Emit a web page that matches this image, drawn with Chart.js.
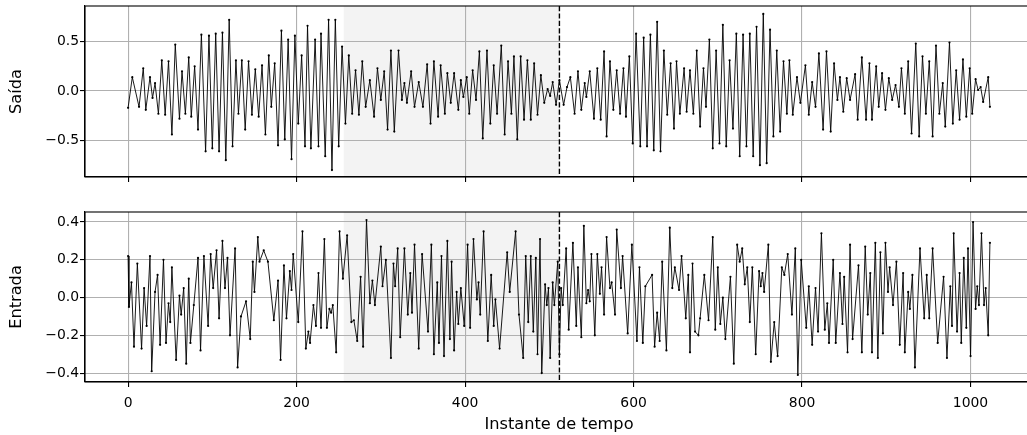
<!DOCTYPE html>
<html>
<head>
<meta charset="utf-8">
<script src="https://cdn.jsdelivr.net/npm/chart.js@4"></script>
<style>
  body { margin: 0; width: 1027px; height: 435px; overflow: hidden; background: #fff; position: relative; }
  canvas { position: absolute; left: 0; }
</style>
</head>
<body>
<canvas id="outChart" width="1037" height="190" style="top:0"></canvas>
<canvas id="inChart" width="1037" height="229" style="top:206px"></canvas>
<script>
// sample index / value of each turning point
const outX = [0,5,13,18,21,26,29,32,36,40,44,48,52,56,61,64,68,72,75,79,83,87,92,96,100,104,108,112,116,120,124,128,131,135,139,143,147,151,155,159,163,167,
  170,174,178,182,186,190,194,198,202,206,210,213,217,222,226,229,234,238,242,246,250,254,258,262,266,270,274,278,282,287,292,296,300,304,308,312,316,321,325,328,331,336,340,
  345,350,355,359,363,368,371,376,379,383,387,392,395,398,402,405,409,413,417,421,426,430,434,438,443,447,451,455,458,462,466,470,474,478,482,486,490,494,498,501,504,508,512,
  517,521,525,530,534,538,542,544,548,553,557,561,565,568,572,576,580,584,588,591,595,599,603,608,612,616,620,624,628,632,636,640,644,648,651,655,660,663,667,671,675,679,683,
  686,690,694,698,702,706,710,714,718,722,726,730,734,738,742,746,750,754,758,762,766,770,774,778,782,785,789,794,798,804,808,812,816,820,825,829,834,838,842,845,849,853,857,
  863,866,871,876,880,883,888,891,895,899,903,907,911,915,918,922,926,930,935,939,943,947,951,955,959,963,967,970,975,979,983,987,991,995,999,1002,1006,1009,1012,1015,1021,1023];
const outY = [-0.17,0.14,-0.16,0.23,-0.19,0.14,-0.07,0.08,-0.23,0.31,-0.24,0.30,-0.44,0.47,-0.28,0.20,-0.23,0.34,-0.26,0.25,-0.39,0.57,-0.61,0.56,-0.58,0.58,-0.61,0.59,-0.70,0.72,-0.56,0.31,-0.23,0.31,-0.39,0.30,-0.24,0.22,-0.26,0.26,-0.44,0.36,
  -0.16,0.28,-0.55,0.61,-0.49,0.52,-0.69,0.56,-0.33,0.36,-0.56,0.66,-0.58,0.52,-0.56,0.58,-0.66,0.72,-0.80,0.72,-0.56,0.45,-0.33,0.36,-0.23,0.21,-0.24,0.30,-0.16,0.11,-0.26,0.23,-0.09,0.20,-0.39,0.41,-0.41,0.41,-0.09,0.08,-0.12,0.20,-0.16,
  0.09,-0.16,0.27,-0.33,0.30,-0.26,0.26,-0.23,0.18,-0.12,0.18,-0.19,0.11,-0.06,0.14,-0.23,0.21,-0.09,0.40,-0.48,0.41,-0.33,0.26,-0.23,0.46,-0.44,0.30,-0.23,0.35,-0.49,0.35,-0.29,0.31,-0.29,0.28,-0.24,0.16,-0.12,0.02,-0.05,0.09,-0.14,0.11,
  -0.14,0.04,0.14,-0.23,0.20,-0.19,0.08,-0.06,0.20,-0.28,0.23,-0.29,0.40,-0.46,0.30,-0.19,0.21,-0.23,0.23,-0.26,0.35,-0.53,0.58,-0.56,0.54,-0.56,0.57,-0.60,0.70,-0.61,0.41,-0.24,0.28,-0.38,0.30,-0.23,0.23,-0.21,0.21,-0.23,0.41,-0.36,0.23,
  -0.16,0.52,-0.58,0.41,-0.53,0.67,-0.56,0.31,-0.38,0.58,-0.66,0.57,-0.56,0.58,-0.66,0.65,-0.75,0.78,-0.73,0.62,-0.46,0.41,-0.41,0.30,-0.23,0.31,-0.24,0.14,-0.12,0.26,-0.24,0.09,-0.16,0.38,-0.39,0.40,-0.41,0.28,-0.09,0.14,-0.21,0.13,-0.09,
  0.17,-0.29,0.34,-0.29,0.28,-0.29,0.25,-0.16,0.18,-0.19,0.13,-0.09,0.06,-0.16,0.23,-0.23,0.30,-0.43,0.48,-0.46,0.35,-0.23,0.30,-0.46,0.46,-0.23,0.08,-0.36,0.49,-0.33,0.21,-0.29,0.32,-0.26,0.23,-0.23,0.12,0.01,0.04,-0.11,0.14,-0.16];

const inX = [0,1,4,7,11,16,19,22,26,28,32,35,38,42,45,48,50,52,57,61,63,66,69,72,74,78,83,86,90,95,98,101,105,108,112,115,118,121,127,130,134,140,145,148,150,154,156,161,
  166,173,178,181,185,188,192,194,196,202,207,211,214,216,220,223,226,229,233,236,239,241,243,247,251,255,260,265,268,272,276,279,283,287,290,293,300,302,306,312,315,317,320,323,328,332,335,337,340,
  345,349,356,360,363,367,369,372,375,379,382,384,387,390,392,395,399,403,406,410,414,416,418,422,427,431,434,436,441,450,453,460,464,469,472,475,478,481,484,486,489,491,495,497,499,501,504,506,510,512,
  514,516,520,523,528,532,534,538,541,544,546,548,550,554,557,560,562,565,568,572,574,578,580,585,587,593,598,604,607,611,614,622,625,628,631,634,639,643,646,649,654,657,662,665,667,670,673,677,679,684,
  689,694,697,700,703,706,709,715,719,723,726,729,732,735,738,741,745,749,751,753,755,760,763,767,771,776,779,783,788,792,795,799,805,808,812,816,819,823,827,830,832,837,840,845,848,850,854,857,
  860,867,871,875,878,881,883,887,890,893,896,899,902,904,908,912,916,920,922,926,928,931,934,940,945,948,951,955,961,968,972,976,978,980,984,987,989,992,995,997,1000,1003,1006,1008,1010,1013,1016,1018,1021,1023];
const inY = [0.22,-0.05,0.08,-0.26,0.18,-0.27,0.05,-0.15,0.22,-0.39,0.03,0.12,-0.25,0.20,-0.24,-0.03,-0.13,0.16,-0.33,0.01,-0.09,0.05,-0.35,0.10,-0.24,-0.04,0.21,-0.28,0.22,-0.15,0.23,0.05,0.25,-0.11,0.30,0.05,0.21,-0.20,0.26,-0.37,-0.10,-0.02,-0.22,0.19,0.03,0.32,0.19,0.25,
  0.19,-0.12,0.09,-0.33,0.17,-0.11,0.14,0.04,0.23,-0.13,0.35,-0.27,-0.18,-0.24,-0.04,-0.15,0.13,-0.16,0.31,-0.16,-0.06,-0.08,-0.04,-0.29,0.35,0.10,0.33,-0.13,-0.12,-0.23,0.11,-0.26,0.41,-0.03,0.09,-0.04,0.27,0.06,0.20,-0.32,0.18,0.06,0.26,-0.21,0.26,-0.09,0.13,-0.08,0.28,
  -0.27,0.23,-0.18,0.28,-0.30,0.08,-0.24,0.22,-0.31,0.30,-0.22,0.19,-0.28,0.03,-0.14,0.05,-0.15,0.28,-0.16,0.31,-0.01,0.08,-0.09,0.35,-0.23,0.12,-0.15,-0.01,-0.27,0.24,0.03,0.35,-0.09,-0.32,0.22,-0.13,0.22,-0.18,0.21,-0.30,0.31,-0.40,0.07,-0.04,0.05,-0.32,0.08,-0.04,0.19,-0.30,
  0.05,-0.04,0.26,-0.17,0.29,-0.15,0.16,-0.21,0.38,-0.03,0.04,-0.02,0.23,-0.20,0.23,0.02,0.16,-0.09,0.32,0.05,0.08,-0.09,0.36,0.05,0.22,-0.19,0.28,-0.23,0.16,-0.24,0.06,0.12,-0.26,-0.08,-0.23,0.19,-0.28,0.37,0.05,0.16,0.04,0.22,-0.11,0.12,-0.29,0.18,-0.18,-0.20,-0.11,0.12,
  -0.12,0.32,-0.17,0.16,-0.14,0.00,-0.22,0.11,-0.35,0.28,0.19,0.26,0.07,0.16,-0.13,0.16,-0.30,0.14,0.06,0.13,0.03,0.28,-0.34,-0.13,-0.31,0.16,0.12,0.23,-0.09,0.26,-0.41,0.20,-0.16,0.06,-0.25,0.05,-0.18,0.34,-0.17,-0.03,-0.24,0.20,-0.24,0.13,-0.14,0.11,-0.29,0.28,
  -0.22,0.17,-0.29,0.27,-0.09,0.13,-0.29,0.29,-0.32,0.24,-0.19,0.29,0.03,0.16,-0.04,0.19,-0.25,0.13,-0.29,0.03,-0.06,0.12,-0.37,0.26,-0.11,0.12,-0.11,0.26,-0.24,0.11,-0.32,0.06,-0.15,0.34,-0.18,0.13,-0.24,0.21,-0.16,0.26,-0.31,0.40,-0.06,0.06,-0.04,0.34,-0.04,0.05,-0.20,0.29];

const xTicks = [0, 200, 400, 600, 800, 1000];
const outTicks = [-0.5, 0, 0.5];
const inTicks = [-0.4, -0.2, 0, 0.2, 0.4];
const shadeFrom = 256, shadeTo = 512, splitAt = 512;

const tickFont = { family: "'DejaVu Sans'", size: 13.9 };
const labelFont = { family: "'DejaVu Sans'", size: 16.2 };
const fmt = (v) => (v < 0 ? "\u2212" : "") + Math.abs(v).toFixed(1);

const spanPlugin = {
  id: "span",
  beforeDraw(chart) {
    const { ctx, chartArea: a, scales: { x } } = chart;
    const x0 = x.getPixelForValue(shadeFrom), x1 = x.getPixelForValue(shadeTo);
    ctx.save();
    ctx.fillStyle = "#f3f3f3";
    ctx.fillRect(x0, a.top, x1 - x0, a.bottom - a.top);
    ctx.restore();
  },
  afterDraw(chart) {
    const { ctx, chartArea: a, scales: { x } } = chart;
    const xs = x.getPixelForValue(splitAt);
    ctx.save();
    ctx.strokeStyle = "#000";
    ctx.lineWidth = 1.4;
    ctx.setLineDash([5.2, 2.2]);
    ctx.beginPath();
    ctx.moveTo(xs, a.top);
    ctx.lineTo(xs, a.bottom);
    ctx.stroke();
    ctx.setLineDash([]);
    ctx.lineWidth = 1.1;
    ctx.strokeRect(a.left, a.top, a.right - a.left, a.bottom - a.top);
    ctx.restore();
  },
};

function makeChart(id, xs, ys, yLabel, yMin, yMax, yTicks, showX, xHeight) {
  return new Chart(document.getElementById(id).getContext("2d"), {
    type: "line",
    data: {
      datasets: [
        {
          data: xs.map((x, i) => ({ x: x, y: ys[i] })),
          borderColor: "#000",
          backgroundColor: "#000",
          borderWidth: 0.9,
          pointRadius: 1.1,
          pointBorderWidth: 0,
          tension: 0,
        },
      ],
    },
    options: {
      responsive: false,
      animation: false,
      events: [],
      layout: { padding: { top: 6, right: 0, left: 0, bottom: 0 } },
      plugins: { legend: { display: false }, tooltip: { enabled: false } },
      scales: {
        x: {
          type: "linear",
          min: -51.15,
          max: 1074.15,
          afterBuildTicks: (s) => { s.ticks = xTicks.map((v) => ({ value: v })); },
          afterFit: (s) => { s.height = xHeight; s.paddingLeft = 0; s.paddingRight = 0; },
          grid: { color: "#b0b0b0", lineWidth: 1.1, tickLength: 5, tickColor: "#000", tickWidth: 1.1 },
          border: { display: true, color: "#000", width: 1.1 },
          ticks: { color: "#000", font: tickFont, padding: 8, maxRotation: 0,
                   callback: (v) => (showX ? String(v) : "") },
          title: { display: showX, text: "Instante de tempo", color: "#000", font: labelFont,
                   padding: { top: 0, bottom: 0.5 } },
        },
        y: {
          min: yMin,
          max: yMax,
          afterBuildTicks: (s) => { s.ticks = yTicks.map((v) => ({ value: v })); },
          afterFit: (s) => { s.width = 85; s.paddingTop = 0; s.paddingBottom = 0; },
          grid: { color: "#b0b0b0", lineWidth: 1.1, tickLength: 5, tickColor: "#000", tickWidth: 1.1 },
          border: { display: true, color: "#000", width: 1.1 },
          ticks: { color: "#000", font: tickFont, padding: 1, callback: fmt },
          title: { display: true, text: yLabel, color: "#000", font: labelFont,
                   padding: { top: 7, bottom: 0 } },
        },
      },
    },
    plugins: [spanPlugin],
  });
}

makeChart("outChart", outX, outY, "Saída", -0.87, 0.86, outTicks, false, 13);
makeChart("inChart", inX, inY, "Entrada", -0.447, 0.453, inTicks, true, 53);
</script>
</body>
</html>
